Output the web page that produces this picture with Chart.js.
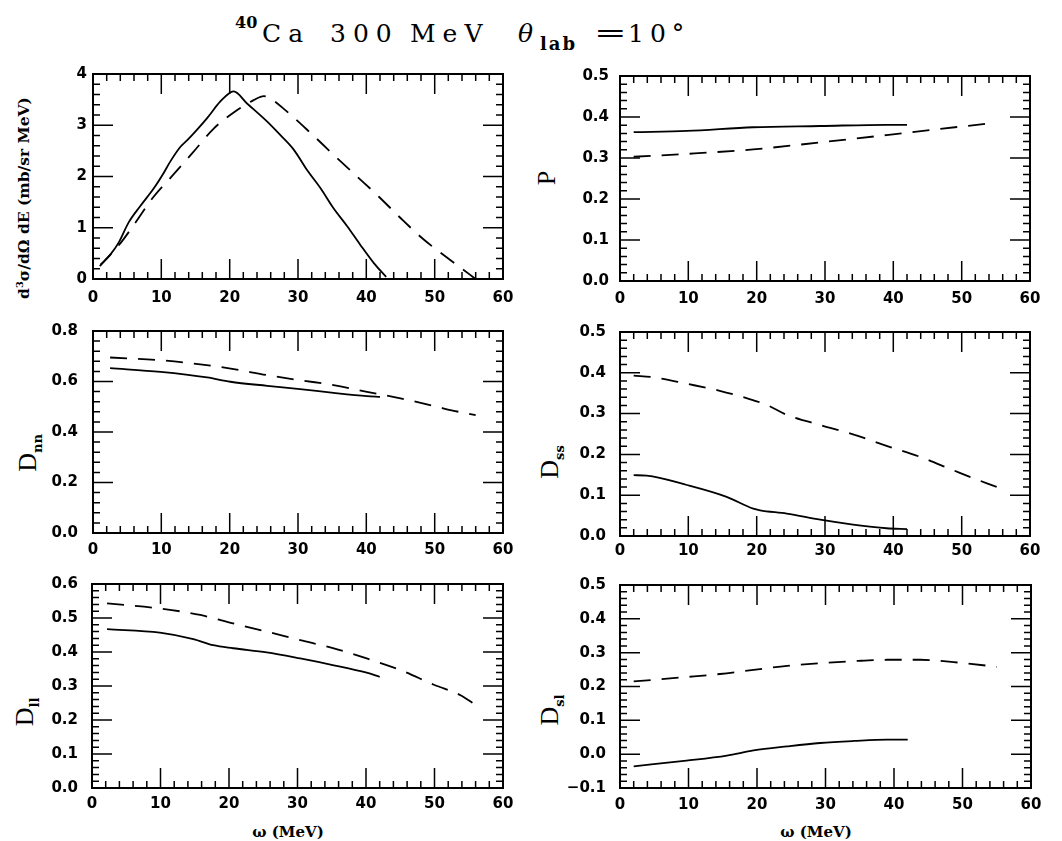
<!DOCTYPE html>
<html>
<head>
<meta charset="utf-8">
<script src="https://cdn.jsdelivr.net/npm/chart.js@4.4.1/dist/chart.umd.min.js"></script>
<style>
  html, body { margin: 0; padding: 0; background: #fff; }
  #page { position: relative; width: 1062px; height: 841px; overflow: hidden; background: #fff; }
  #page canvas { position: absolute; }
  #frames { position: absolute; left: 0; top: 0; pointer-events: none; }
  .t { position: absolute; white-space: nowrap; line-height: 1; color: #000; }
  .serif { font-family: 'DejaVu Serif', serif; }
  .big { font-size: 25px; letter-spacing: 7px; }
  .rot { transform: translate(-50%, -50%) rotate(-90deg); }
  .ctr { transform: translate(-50%, -50%); }
  .D { font-family: 'Liberation Serif', serif; font-size: 26px; }
  .sub { font-family: 'DejaVu Serif', serif; font-weight: bold; font-size: 13px; position: relative; top: 6px; }
</style>
</head>
<body>
<div id="page">
  <!-- heading -->
  <div class="t serif" style="left:235px; top:15px; font-size:16px; font-weight:bold;">40</div>
  <div class="t serif big" style="left:262px; top:21px;">Ca</div>
  <div class="t serif big" style="left:330px; top:21px;">300</div>
  <div class="t serif big" style="left:410px; top:21px;">MeV</div>
  <div class="t serif" style="left:518px; top:21px; font-size:25px; font-style:italic;">θ</div>
  <div class="t serif" style="left:540px; top:35px; font-size:18px; font-weight:bold; letter-spacing:2px;">lab</div>
  <div class="t serif" style="left:594px; top:20px; font-size:26px; transform:scaleX(1.5); transform-origin:left center;">=</div>
  <div class="t serif big" style="left:628px; top:21px; letter-spacing:6px;">10°</div>

  <!-- axis titles -->
  <div class="t serif rot" style="left:23px; top:198px; font-size:15.5px; font-weight:bold;">d<sup style="font-size:10px;">3</sup>σ/dΩ dE (mb/sr MeV)</div>
  <div class="t rot D" style="left:547px; top:178px;">P</div>
  <div class="t rot" style="left:28px; top:453px;"><span class="D">D</span><span class="sub">nn</span></div>
  <div class="t rot" style="left:550px; top:462px;"><span class="D">D</span><span class="sub">ss</span></div>
  <div class="t rot" style="left:25px; top:712px;"><span class="D">D</span><span class="sub">ll</span></div>
  <div class="t rot" style="left:550px; top:710px;"><span class="D">D</span><span class="sub">sl</span></div>
  <div class="t serif ctr" style="left:288px; top:832px; font-size:15px; font-weight:bold;">ω (MeV)</div>
  <div class="t serif ctr" style="left:816px; top:832px; font-size:15px; font-weight:bold;">ω (MeV)</div>
</div>

<script>
// Energy transfer ω (MeV) on every x axis
const omegaTicks = [0, 10, 20, 30, 40, 50, 60];

// d3σ/dΩdE (mb/sr MeV)
const csOmegaSolid = [1.1, 2.5, 3.8, 5.2, 6.9, 8.9, 10.3, 11.3, 12.8, 13.8, 15.2, 16.7, 18.6, 20.1, 20.6, 22.5, 25.5, 27.4, 29.4, 31.3, 33.3, 35.2, 37.2, 39.1, 41.1, 42.9];
const csSolid      = [0.28, 0.47, 0.72, 1.10, 1.42, 1.77, 2.06, 2.29, 2.58, 2.71, 2.91, 3.14, 3.46, 3.64, 3.66, 3.43, 3.07, 2.81, 2.52, 2.13, 1.77, 1.38, 1.03, 0.67, 0.31, 0.04];
const csOmegaDash  = [1.0, 4.2, 6.0, 8.9, 11.3, 14.5, 17.7, 20.8, 23.5, 25.0, 26.0, 28.1, 31.6, 35.0, 38.4, 41.8, 45.0, 48.4, 51.6, 55.2, 56.0];
const csDash       = [0.25, 0.73, 1.06, 1.61, 1.97, 2.45, 2.94, 3.27, 3.49, 3.57, 3.52, 3.30, 2.88, 2.45, 2.03, 1.61, 1.19, 0.77, 0.44, 0.08, 0.0];

// Polarization P
const pOmegaSolid = [2.0, 9.8, 19.5, 29.3, 39.0, 42.0];
const pSolid      = [0.363, 0.366, 0.375, 0.378, 0.381, 0.381];
const pOmegaDash  = [2.0, 9.8, 19.5, 29.3, 39.0, 46.3, 55.0];
const pDash       = [0.303, 0.310, 0.321, 0.338, 0.356, 0.370, 0.386];

// Spin transfer Dnn
const dnnOmegaSolid = [2.5, 9.9, 16.7, 20.1, 25.5, 30.3, 35.2, 40.1, 42.0];
const dnnSolid      = [0.653, 0.638, 0.616, 0.599, 0.583, 0.570, 0.555, 0.542, 0.539];
const dnnOmegaDash  = [2.5, 9.9, 15.7, 20.6, 25.5, 30.3, 35.2, 40.1, 45.0, 49.9, 52.8, 56.0];
const dnnDash       = [0.695, 0.684, 0.668, 0.649, 0.625, 0.605, 0.586, 0.559, 0.533, 0.503, 0.484, 0.467];

// Spin transfer Dss
const dssOmegaSolid = [2.0, 3.9, 9.8, 15.6, 19.5, 20.5, 24.4, 29.3, 34.1, 39.0, 42.0];
const dssSolid      = [0.149, 0.148, 0.125, 0.096, 0.067, 0.063, 0.055, 0.040, 0.028, 0.019, 0.017];
const dssOmegaDash  = [2.0, 4.9, 9.8, 14.6, 18.5, 21.5, 24.4, 29.3, 34.1, 39.0, 43.9, 48.8, 53.7, 55.9];
const dssDash       = [0.393, 0.389, 0.373, 0.356, 0.338, 0.321, 0.297, 0.272, 0.249, 0.221, 0.194, 0.161, 0.129, 0.116];

// Spin transfer Dll
const dllOmegaSolid = [2.2, 9.9, 14.8, 17.7, 20.6, 25.5, 30.4, 35.3, 40.1, 42.0];
const dllSolid      = [0.467, 0.457, 0.438, 0.420, 0.411, 0.399, 0.381, 0.361, 0.339, 0.327];
const dllOmegaDash  = [2.2, 9.9, 15.8, 20.6, 25.5, 30.4, 35.3, 40.1, 45.0, 50.0, 53.8, 56.0];
const dllDash       = [0.543, 0.528, 0.509, 0.484, 0.460, 0.435, 0.411, 0.381, 0.347, 0.303, 0.273, 0.244];

// Spin transfer Dsl
const dslOmegaSolid = [2.0, 9.7, 15.6, 19.5, 24.4, 29.2, 34.1, 39.0, 42.0];
const dslSolid      = [-0.036, -0.019, -0.004, 0.011, 0.023, 0.033, 0.039, 0.043, 0.043];
const dslOmegaDash  = [2.0, 9.7, 14.6, 19.5, 24.4, 29.2, 34.1, 39.0, 43.8, 48.7, 53.8, 55.0];
const dslDash       = [0.215, 0.228, 0.237, 0.249, 0.261, 0.269, 0.275, 0.279, 0.279, 0.272, 0.261, 0.258];

// Panel frames: box = plot area in page pixels
const panels = [
  { box: {L: 93, R: 503, T: 74, B: 279}, left: 30, yMin: 0, yMax: 4, yStep: 1, yMinor: 0.2, dec: 0, yPad: 6, xPad: 10,
    solid: [csOmegaSolid, csSolid], dash: [csOmegaDash, csDash] },
  { box: {L: 620, R: 1030, T: 76, B: 281}, left: 560, yMin: 0, yMax: 0.5, yStep: 0.1, yMinor: 0.02, dec: 1, yPad: 11, xPad: 9,
    solid: [pOmegaSolid, pSolid], dash: [pOmegaDash, pDash] },
  { box: {L: 93, R: 503, T: 331, B: 533}, left: 30, yMin: 0, yMax: 0.8, yStep: 0.2, yMinor: 0.04, dec: 1, yPad: 15, xPad: 8,
    solid: [dnnOmegaSolid, dnnSolid], dash: [dnnOmegaDash, dnnDash] },
  { box: {L: 620, R: 1030, T: 332, B: 536}, left: 560, yMin: 0, yMax: 0.5, yStep: 0.1, yMinor: 0.02, dec: 1, yPad: 14, xPad: 6,
    solid: [dssOmegaSolid, dssSolid], dash: [dssOmegaDash, dssDash] },
  { box: {L: 92, R: 503, T: 584, B: 788}, left: 30, yMin: 0, yMax: 0.6, yStep: 0.1, yMinor: 0.02, dec: 1, yPad: 14, xPad: 7,
    solid: [dllOmegaSolid, dllSolid], dash: [dllOmegaDash, dllDash] },
  { box: {L: 620, R: 1031, T: 585, B: 788}, left: 560, yMin: -0.1, yMax: 0.5, yStep: 0.1, yMinor: 0.02, dec: 1, yPad: 14, xPad: 8,
    solid: [dslOmegaSolid, dslSolid], dash: [dslOmegaDash, dslDash] }
];

Chart.defaults.color = '#000';
const tickFont = { family: 'DejaVu Sans', size: 15, weight: 'bold' };
const page = document.getElementById('page');
const PAD_TOP = 30, X_AXIS_H = 32, CANVAS_W = 500;
const MAJOR_LEN = 20, MINOR_LEN = 7;

function fmt(v, dec) {
  const s = Math.abs(v) < 1e-9 ? (0).toFixed(dec) : v.toFixed(dec);
  return s.replace('-', '\u2212');
}

function line(xs, ys, dashed) {
  return {
    data: xs.map((v, i) => ({ x: v, y: ys[i] })),
    borderColor: '#000',
    borderWidth: 1.8,
    borderDash: dashed ? [17, 11] : [],
    pointRadius: 0,
    fill: false,
    cubicInterpolationMode: 'monotone'
  };
}

// Step through a scale's range at the minor spacing; report pixel and tick length
function walk(scale, minor, major, draw) {
  const min = scale.min, max = scale.max;
  for (let i = 0; i < 500; i++) {
    const v = min + i * minor;
    if (v > max + 1e-9) break;
    const r = (v - min) / major;
    const isMajor = Math.abs(r - Math.round(r)) < 1e-6;
    draw(scale.getPixelForValue(v), isMajor ? MAJOR_LEN : MINOR_LEN);
  }
}

const charts = [];
panels.forEach(p => {
  const top = p.box.T - PAD_TOP;
  const ch = p.box.B - top + X_AXIS_H;
  const canvas = document.createElement('canvas');
  canvas.width = CANVAS_W; canvas.height = ch;
  canvas.style.left = p.left + 'px';
  canvas.style.top = top + 'px';
  canvas.style.width = CANVAS_W + 'px';
  canvas.style.height = ch + 'px';
  page.appendChild(canvas);

  const chart = new Chart(canvas, {
    type: 'line',
    data: { datasets: [line(p.solid[0], p.solid[1], false), line(p.dash[0], p.dash[1], true)] },
    options: {
      responsive: false,
      animation: false,
      devicePixelRatio: 1,
      layout: { padding: { top: PAD_TOP, left: 0, bottom: 0, right: CANVAS_W - (p.box.R - p.left) } },
      plugins: { legend: { display: false }, tooltip: { enabled: false } },
      scales: {
        x: {
          type: 'linear', min: omegaTicks[0], max: omegaTicks[omegaTicks.length - 1],
          ticks: { stepSize: 10, padding: p.xPad, font: tickFont, color: '#000', maxRotation: 0, callback: v => String(v) },
          grid: { display: false, drawTicks: false },
          border: { display: false },
          afterFit(s) { s.height = X_AXIS_H; }
        },
        y: {
          type: 'linear', min: p.yMin, max: p.yMax,
          ticks: { stepSize: p.yStep, padding: p.yPad, font: tickFont, color: '#000', callback: v => fmt(v, p.dec) },
          grid: { display: false, drawTicks: false },
          border: { display: false },
          afterFit(s) { s.width = p.box.L - p.left; }
        }
      }
    }
  });
  charts.push({ chart, p, ox: p.left, oy: top });
});

// Frames and inward major/minor ticks, placed from each chart's own scales
const svgNS = 'http://www.w3.org/2000/svg';
const frames = document.createElementNS(svgNS, 'svg');
frames.setAttribute('id', 'frames');
frames.setAttribute('width', '1062');
frames.setAttribute('height', '841');
page.appendChild(frames);

charts.forEach(({ chart, p, ox, oy }) => {
  const a = chart.chartArea;
  const x = chart.scales.x, y = chart.scales.y;
  const L = ox + a.left, R = ox + a.right, T = oy + a.top, B = oy + a.bottom;
  let d = '';
  walk(x, 2, 10, (px, len) => {
    const X = (ox + px).toFixed(1);
    d += `M${X} ${B}V${B - len}M${X} ${T}V${T + len}`;
  });
  walk(y, p.yMinor, p.yStep, (py, len) => {
    const Y = (oy + py).toFixed(1);
    d += `M${L} ${Y}H${L + len}M${R} ${Y}H${R - len}`;
  });
  const ticks = document.createElementNS(svgNS, 'path');
  ticks.setAttribute('d', d);
  ticks.setAttribute('stroke', '#000');
  ticks.setAttribute('stroke-width', '1.5');
  ticks.setAttribute('fill', 'none');
  frames.appendChild(ticks);

  const rect = document.createElementNS(svgNS, 'rect');
  rect.setAttribute('x', L);
  rect.setAttribute('y', T);
  rect.setAttribute('width', R - L);
  rect.setAttribute('height', B - T);
  rect.setAttribute('stroke', '#000');
  rect.setAttribute('stroke-width', '2');
  rect.setAttribute('fill', 'none');
  frames.appendChild(rect);
});
</script>
</body>
</html>
